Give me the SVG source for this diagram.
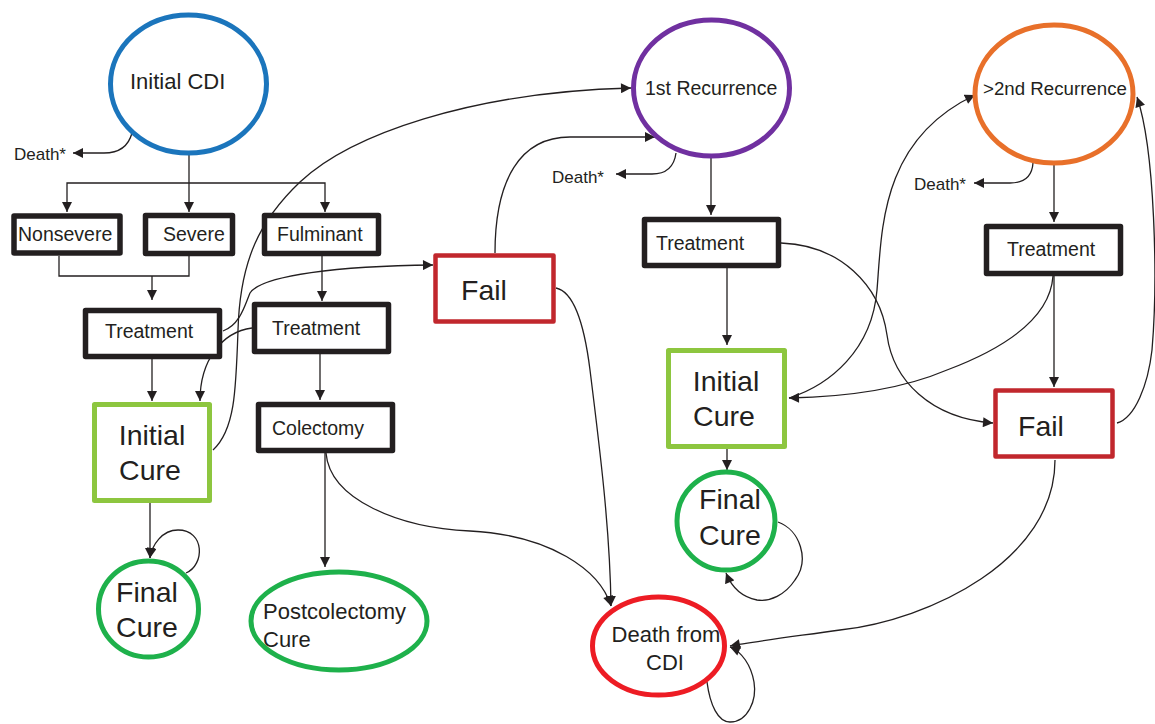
<svg xmlns="http://www.w3.org/2000/svg" width="1155" height="724" viewBox="0 0 1155 724">
<style>
text{font-family:"Liberation Sans",Arial,sans-serif;fill:#231f20}
.box{fill:#fff;stroke:#231f20;stroke-width:5.5;stroke-linejoin:round}
.fail{fill:#fff;stroke:#c1272d;stroke-width:4.5;stroke-linejoin:round}
.icure{fill:#fff;stroke:#8dc63f;stroke-width:5;stroke-linejoin:round}
.fcure{fill:#fff;stroke:#1eb14b;stroke-width:5}
.c{fill:none;stroke:#231f20;stroke-width:1.3}
.a{marker-end:url(#ah)}
.s20{font-size:19.5px}
.s28{font-size:28.5px}
.s22{font-size:22px}
.d{font-size:17px}
</style>
<defs>
<marker id="ah" viewBox="0 0 10 10" refX="10" refY="5" markerWidth="11" markerHeight="10" markerUnits="userSpaceOnUse" orient="auto">
<path d="M0,0 L10,5 L0,10 z" fill="#231f20"/>
</marker>
</defs>
<rect width="1155" height="724" fill="#fff"/>
<g id="connectors">
<path class="c a" d="M132,133 C128,148 118,153 104,153 L73,153"/>
<path class="c a" d="M189,155 V212"/>
<path class="c a" d="M189,183 H67 V212"/>
<path class="c a" d="M189,183 H325 V212"/>
<path class="c" d="M59,256 V276 H189 V256"/>
<path class="c a" d="M152,276 V300"/>
<path class="c a" d="M322,256 V301"/>
<path class="c a" d="M152,359 V401"/>
<path class="c a" d="M252,328 C222,332 200,360 200,401"/>
<path class="c a" d="M213,450 C235,430 236,390 238,330 C240,260 260,220 300,182 C350,135 470,92 631,88"/>
<path class="c a" d="M223,331 C240,325 245,305 250,293 C262,275 340,266 433,265"/>
<path class="c a" d="M495,253 C495,180 520,137 570,137 L655,137"/>
<path class="c a" d="M556,288 C575,292 585,330 590,370 C600,450 610,530 611,606"/>
<path class="c a" d="M326,453 C330,500 400,528 470,531 C550,535 600,570 611,606"/>
<path class="c a" d="M320,354 V400"/>
<path class="c a" d="M325,453 V567"/>
<path class="c a" d="M150,503 V558"/>
<path class="c a" d="M186,573 C205,565 205,530 178,530 C162,530 152,545 150,558"/>
<path class="c a" d="M676,153 C674,168 665,174 652,174 L616,174"/>
<path class="c a" d="M711,158 V215"/>
<path class="c a" d="M727,268 V345"/>
<path class="c a" d="M781,243 C840,245 880,285 887,335 C893,380 930,418 993,423"/>
<path class="c a" d="M789,398 C830,385 872,350 877,290 C882,230 880,140 975,95"/>
<path class="c a" d="M1053,276 C1050,320 1000,350 947,370 C900,390 840,397 789,398"/>
<path class="c a" d="M1054,276 V387"/>
<path class="c a" d="M1054,165 V222"/>
<path class="c a" d="M1033,163 C1032,178 1022,183 1010,183 L974,183"/>
<path class="c a" d="M1117,423 C1135,418 1148,385 1152,350 C1158,280 1155,150 1137,97"/>
<path class="c a" d="M1055,460 C1055,560 930,620 840,630 C790,637 750,642 730,646"/>
<path class="c a" d="M707,682 C710,705 718,722 730,722 C748,722 757,700 754,682 C751,665 742,652 730,647"/>
<path class="c a" d="M727,449 V470"/>
<path class="c a" d="M778,522 C800,530 810,560 795,580 C785,595 770,602 757,600 C742,597 732,588 726,573"/>
</g>
<g id="initial-cdi">
<ellipse cx="188.5" cy="84" rx="78" ry="69" fill="#fff" stroke="#1b75bc" stroke-width="5"/>
<text x="130" y="89" font-size="22px">Initial CDI</text>
<text x="14" y="160" class="d">Death*</text>
</g>
<g id="nonsevere"><rect class="box" x="14" y="216" width="106" height="37"/><text class="s20" x="18" y="241">Nonsevere</text></g>
<g id="severe"><rect class="box" x="145.5" y="215.5" width="87" height="38"/><text class="s20" x="163" y="241">Severe</text></g>
<g id="fulminant"><rect class="box" x="264.5" y="215.5" width="114" height="38"/><text class="s20" x="277" y="241">Fulminant</text></g>
<g id="treatment1"><rect class="box" x="85.5" y="310.5" width="134" height="46"/><text class="s20" x="105" y="338">Treatment</text></g>
<g id="treatment2"><rect class="box" x="254.5" y="304.5" width="134" height="47"/><text class="s20" x="272" y="335">Treatment</text></g>
<g id="colectomy"><rect class="box" x="258.5" y="404.5" width="134" height="46"/><text class="s20" x="272" y="435">Colectomy</text></g>
<g id="initial-cure-1"><rect class="icure" x="94.5" y="404.5" width="115" height="96"/><text class="s28" x="152" y="445" text-anchor="middle">Initial</text><text class="s28" x="150" y="480" text-anchor="middle">Cure</text></g>
<g id="final-cure-1"><ellipse class="fcure" cx="148.5" cy="609" rx="50" ry="48"/><text class="s28" x="147" y="602" text-anchor="middle">Final</text><text class="s28" x="147" y="637" text-anchor="middle">Cure</text></g>
<g id="postcolectomy"><ellipse class="fcure" cx="339" cy="621" rx="88" ry="49"/><text class="s22" x="263" y="619">Postcolectomy</text><text class="s22" x="263" y="647">Cure</text></g>
<g id="fail-1"><rect class="fail" x="435.5" y="255.5" width="118" height="66"/><text class="s28" x="461" y="300">Fail</text></g>
<g id="first-recurrence">
<ellipse cx="711.5" cy="88" rx="78" ry="68" fill="#fff" stroke="#7030a0" stroke-width="5"/>
<text x="645" y="95" font-size="19.5px">1st Recurrence</text>
<text x="552" y="183" class="d">Death*</text>
</g>
<g id="treatment3"><rect class="box" x="644.5" y="219.5" width="134" height="46"/><text class="s20" x="656" y="250">Treatment</text></g>
<g id="initial-cure-2"><rect class="icure" x="668.5" y="350.5" width="116" height="96"/><text class="s28" x="726" y="391" text-anchor="middle">Initial</text><text class="s28" x="724" y="426" text-anchor="middle">Cure</text></g>
<g id="final-cure-2"><ellipse class="fcure" cx="726" cy="521" rx="49" ry="49"/><text class="s28" x="730" y="509" text-anchor="middle">Final</text><text class="s28" x="730" y="545" text-anchor="middle">Cure</text></g>
<g id="death-from-cdi"><ellipse cx="658.5" cy="646" rx="66" ry="49" fill="#fff" stroke="#ed1c24" stroke-width="5"/><text class="s22" x="666" y="642" text-anchor="middle">Death from</text><text class="s22" x="665" y="670" text-anchor="middle">CDI</text></g>
<g id="second-recurrence">
<ellipse cx="1054" cy="94" rx="79" ry="69" fill="#fff" stroke="#e8702a" stroke-width="5"/>
<text x="983" y="95" font-size="18.7px">&gt;2nd Recurrence</text>
<text x="914" y="190" class="d">Death*</text>
</g>
<g id="treatment4"><rect class="box" x="986.5" y="226.5" width="134" height="47"/><text class="s20" x="1007" y="256">Treatment</text></g>
<g id="fail-2"><rect class="fail" x="995.5" y="390.5" width="117" height="66"/><text class="s28" x="1018" y="436">Fail</text></g>
</svg>
